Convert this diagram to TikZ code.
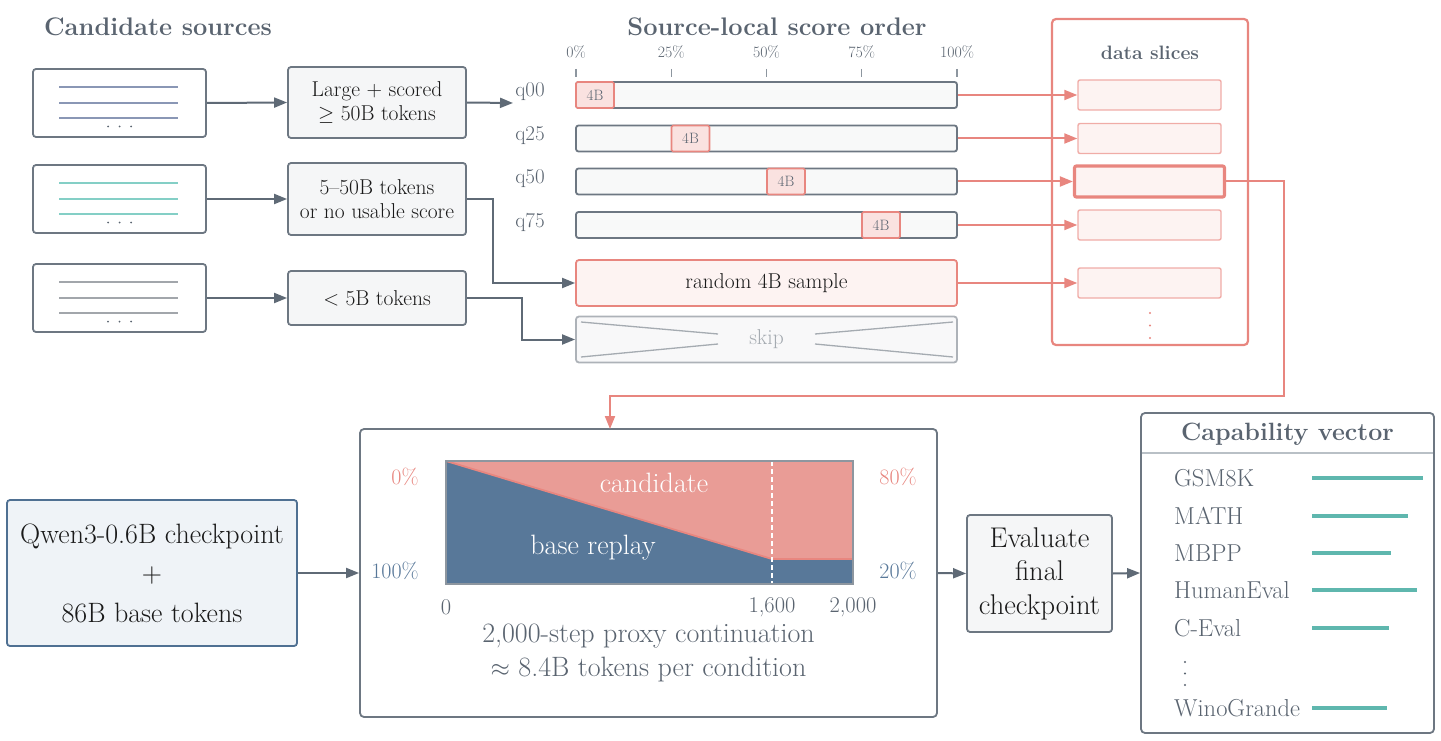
\documentclass[tikz,border=0pt]{standalone}
\usetikzlibrary{arrows.meta}
\newcommand\myfs[2]{\fontsize{#1}{#2}\selectfont}
\definecolor{cgray}{HTML}{6D7782}
\definecolor{ctitle}{HTML}{5A6470}
\definecolor{carrow}{HTML}{5F6A76}
\definecolor{cfill}{HTML}{F5F6F7}
\definecolor{cbar}{HTML}{F8F9F9}
\definecolor{salmon}{HTML}{E8867F}
\definecolor{salmonlt}{HTML}{F0ACA7}
\definecolor{pinkfill}{HTML}{FDF3F2}
\definecolor{chunkfill}{HTML}{FAE2E0}
\definecolor{cand}{HTML}{E99C96}
\definecolor{basec}{HTML}{587899}
\definecolor{qstroke}{HTML}{4F7092}
\definecolor{qfill}{HTML}{EFF3F7}
\definecolor{tealc}{HTML}{5FB7AE}
\definecolor{srcA}{HTML}{8A97B5}
\definecolor{srcB}{HTML}{84CFC6}
\definecolor{srcC}{HTML}{A2A6AB}
\definecolor{skipstroke}{HTML}{ADB2B8}
\definecolor{skipfill}{HTML}{F8F8F9}
\definecolor{skipline}{HTML}{A5ABB1}
\definecolor{chartb}{HTML}{8D969F}
\definecolor{capdiv}{HTML}{B9C0C6}
\definecolor{ctext}{HTML}{1A1A1A}
\tikzset{
  garrow/.style={draw=carrow, line width=2pt, -{Triangle[length=13pt,width=10pt]}},
  sarrow/.style={draw=salmon, line width=2pt, -{Triangle[length=13pt,width=10pt]}},
  srcbox/.style={draw=cgray, line width=1.8pt, rounded corners=3pt, fill=white, minimum width=173pt, minimum height=68pt, inner sep=0pt},
  catbox/.style={draw=cgray, line width=1.8pt, rounded corners=3pt, fill=cfill, align=center, text=ctext, font=\myfs{21.5}{24.5}, minimum width=178pt, inner sep=0pt},
  barbox/.style={draw=cgray, line width=1.8pt, rounded corners=2.5pt, fill=cbar, minimum width=381pt, minimum height=26pt, inner sep=0pt},
  chunk/.style={draw=salmon, line width=1.6pt, rounded corners=1.5pt, fill=chunkfill, minimum width=38pt, minimum height=26pt, inner sep=0pt, text=ctitle, font=\myfs{15}{17}},
  qlab/.style={text=ctitle, font=\myfs{21}{24}},
  ticklab/.style={text=ctitle, font=\myfs{15.8}{18}},
  tick/.style={draw=chartb, line width=1.2pt},
  slice/.style={draw=salmonlt, line width=1.4pt, rounded corners=2pt, fill=pinkfill, minimum width=143pt, minimum height=30pt, inner sep=0pt},
  title/.style={text=ctitle, font=\bfseries\myfs{25.4}{28}},
  srcline/.style={line width=1.6pt},
  caplab/.style={text=ctitle, font=\myfs{24.5}{28}, anchor=west, inner sep=0pt},
  capbar/.style={draw=tealc, line width=4.5pt},
  bigbox/.style={draw=cgray, line width=1.8pt, rounded corners=4pt, fill=white, inner sep=0pt},
  plotlab/.style={font=\myfs{22}{24}},
  axlab/.style={text=ctitle, font=\myfs{22.5}{24}},
}
\begin{document}
\begin{tikzpicture}[x=1pt,y=-1pt]
\useasboundingbox (0,0) rectangle (1441,741);
% titles
\node[title] (t1) at (158,27) {Candidate sources};
\node[title] (t2) at (777,27) {Source-local score order};

% source boxes
\node[srcbox] (s1) at (119.5,103) {};
\node[srcbox] (s2) at (119.5,199) {};
\node[srcbox] (s3) at (119.5,298) {};
\foreach \c/\col in {103/srcA,199/srcB,298/srcC}{
  \draw[srcline, draw=\col] (59,\c-16) -- (178,\c-16);
  \draw[srcline, draw=\col] (59,\c) -- (178,\c);
  \draw[srcline, draw=\col] (59,\c+15) -- (178,\c+15);
  \foreach \xx in {108,119.5,131}{\fill[ctitle] (\xx,\c+23.5) circle (1pt);}
}

% category boxes
\node[catbox, minimum height=71pt] (c1) at (377,102.5) {Large + scored\\$\geq$ 50B tokens};
\node[catbox, minimum height=72pt] (c2) at (377,199) {5--50B tokens\\or no usable score};
\node[catbox, minimum height=54pt] (c3) at (377,298) {$<$ 5B tokens};
\draw[garrow] (s1.east) -- (c1.west);
\draw[garrow] (s2.east) -- (c2.west);
\draw[garrow] (s3.east) -- (c3.west);

% ticks
\foreach \xx/\lab/\nm in {576/0\%/ta,671.25/25\%/tb,766.5/50\%/tc,861.75/75\%/td,957/100\%/te}{
  \node[ticklab] (\nm) at (\xx,52) {\lab};
  \draw[tick] (\xx,69) -- (\xx,77);
}

% bars
\node[barbox] (b0) at (766.5,95) {};
\node[barbox] (b1) at (766.5,138.5) {};
\node[barbox] (b2) at (766.5,181.5) {};
\node[barbox] (b3) at (766.5,225) {};
\node[chunk] (k0) at (595,95) {4B};
\node[chunk] (k1) at (690.5,138.5) {4B};
\node[chunk] (k2) at (786,181.5) {4B};
\node[chunk] (k3) at (881,225) {4B};
\node[qlab] (q0) at (530,92) {q00};
\node[qlab] (q1) at (530,136) {q25};
\node[qlab] (q2) at (530,179) {q50};
\node[qlab] (q3) at (530,222) {q75};

\node[draw=salmon, line width=1.8pt, rounded corners=3pt, fill=pinkfill, minimum width=381pt, minimum height=46pt, inner sep=0pt, text=ctext, font=\myfs{21.5}{24}] (rnd) at (766.5,283) {random 4B sample};
\node[draw=skipstroke, line width=1.8pt, rounded corners=3pt, fill=skipfill, minimum width=381pt, minimum height=46pt, inner sep=0pt, text=skipline, font=\myfs{21.5}{24}] (skip) at (766.5,339.5) {skip};
\draw[skipline, line width=1.3pt] (581,322) -- (718,334) (581,357) -- (718,344) (815,334) -- (953,322) (815,344) -- (953,357);

\coordinate (q0in) at (513,103);
\draw[garrow] (c1.east) -- (q0in);
\draw[garrow] (c2.east) -- ++(26,0) |- (rnd.west);
\draw[garrow] (c3.east) -- ++(55,0) |- (skip.west);

% data slices
\node[draw=salmon, line width=2.2pt, rounded corners=4pt, minimum width=196pt, minimum height=326pt, inner sep=0pt] (ds) at (1150,182) {};
\node[text=ctitle, font=\bfseries\myfs{19.4}{22}] (dst) at (1150,53) {data slices};
\node[slice] (sl0) at (1149.5,95) {};
\node[slice] (sl1) at (1149.5,138.5) {};
\node[slice, draw=salmon, line width=3.2pt, minimum width=150pt, minimum height=31pt] (sl2) at (1149.5,181.5) {};
\node[slice] (sl3) at (1149.5,225) {};
\node[slice] (sl4) at (1149.5,283) {};
\foreach \yy in {313,325.5,338}{\fill[salmon] (1150,\yy) circle (1.2pt);}
\draw[sarrow] (b0.east) -- (sl0.west);
\draw[sarrow] (b1.east) -- (sl1.west);
\draw[sarrow] (b2.east) -- (sl2.west);
\draw[sarrow] (b3.east) -- (sl3.west);
\draw[sarrow] (rnd.east) -- (sl4.west);

% proxy box
\node[bigbox, minimum width=577pt, minimum height=288pt] (px) at (648.5,573) {};
\coordinate (turnA) at (1284,396);
\coordinate (pxin) at (610,429);
\draw[sarrow] (sl2.east) -| (turnA) -| (pxin);

% chart
\fill[cand] (446,461) -- (853,461) -- (853,559) -- (772,559) -- cycle;
\fill[basec] (446,461) -- (772,559) -- (853,559) -- (853,584) -- (446,584) -- cycle;
\draw[salmon, line width=1.8pt] (446,461) -- (772,559) -- (853,559);
\draw[white, line width=1.5pt, dash pattern=on 5pt off 3pt] (772,461) -- (772,584);
\draw[chartb, line width=1.8pt] (446,461) rectangle (853,584);
\node[plotlab, text=white, font=\myfs{28}{30}] (lc) at (654,483) {candidate};
\node[plotlab, text=white, font=\myfs{28}{30}] (lb) at (593,548) {base replay};
\node[plotlab, text=salmon] (p0) at (405,477) {0\%};
\node[plotlab, text=basec] (p100) at (395,571) {100\%};
\node[plotlab, text=salmon] (p80) at (898,477) {80\%};
\node[plotlab, text=basec] (p20) at (898,571) {20\%};
\node[axlab] (x0) at (446,607) {0};
\node[axlab] (x1) at (772,607) {1,600};
\node[axlab] (x2) at (853,607) {2,000};
\node[text=ctitle, align=center, font=\myfs{28}{34}] (cap) at (648.5,653) {2,000-step proxy continuation\\$\approx$ 8.4B tokens per condition};

% qwen
\node[draw=qstroke, line width=1.8pt, rounded corners=3pt, fill=qfill, minimum width=290pt, minimum height=146pt, inner sep=0pt, align=center, text=ctext, font=\myfs{28}{39.5}] (qw) at (152,573) {Qwen3-0.6B checkpoint\\+\\86B base tokens};
\draw[garrow] (qw.east) -- (px.west);

% evaluate
\node[draw=cgray, line width=1.8pt, rounded corners=3pt, fill=cfill, minimum width=145pt, minimum height=117pt, inner sep=0pt, align=center, text=ctext, font=\myfs{28.5}{33.5}] (ev) at (1039.5,573.5) {Evaluate\\final\\checkpoint};
\draw[garrow] (px.east) -- (ev.west);

% capability
\node[bigbox, minimum width=293pt, minimum height=320pt] (cv) at (1287.5,573) {};
\draw[garrow] (ev.east) -- (cv.west);
\node[text=ctitle, font=\bfseries\myfs{25}{28}] (cvt) at (1287.5,434) {Capability vector};
\draw[capdiv, line width=1.5pt] (1142,453) -- (1433,453);
\foreach \nm/\yy/\ee in {GSM8K/478/1423,MATH/516/1408,MBPP/553/1391,HumanEval/590/1417,C-Eval/628/1389,WinoGrande/708/1387}{
  \node[caplab] (L\nm) at (1174,\yy) {\nm};
  \draw[capbar] (1312,\yy) -- (\ee,\yy);
}
\foreach \yy in {662,673.5,685}{\fill[ctitle] (1185,\yy) circle (1.2pt);}
\end{tikzpicture}
\end{document}
